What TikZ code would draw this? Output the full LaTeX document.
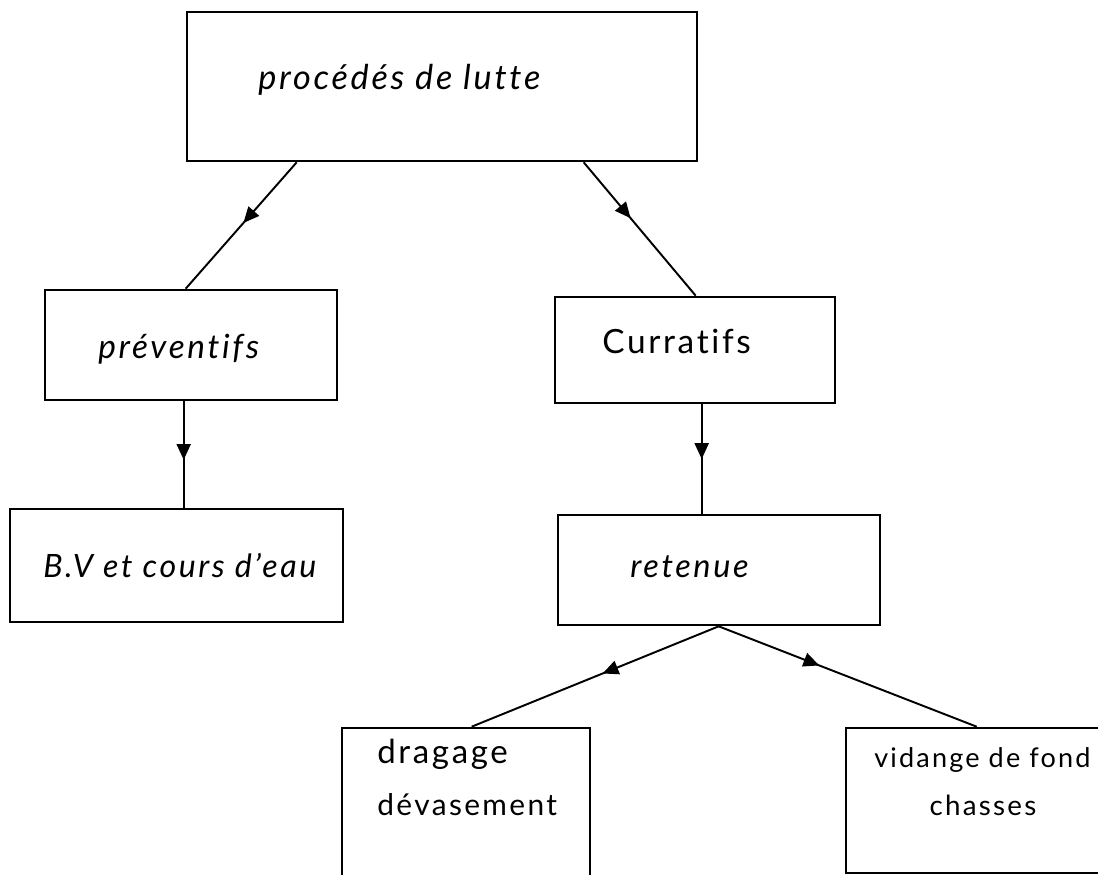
\documentclass[tikz,border=0pt]{standalone}
\usepackage{fontspec}
\setmainfont{Lato}[LetterSpace=8,Ligatures={NoCommon}]
\usetikzlibrary{fit,calc,arrows.meta,decorations.markings}
\newcommand{\fs}[1]{\fontsize{#1}{#1}\selectfont}
\begin{document}
\begin{tikzpicture}[x=0.02cm,y=-0.02cm,
  box/.style={draw=black,line width=1.5pt,inner sep=0pt},
  txt/.style={inner sep=0pt,font=\fs{17}},
  conn/.style={line width=1.1pt,postaction={decorate},
    decoration={markings,mark=at position #1 with {\arrow{Triangle[length=9pt,width=8pt]}}}},
  conn/.default=0.5]
\useasboundingbox[fill=white] (0,0) rectangle (1098,875);
% boxes
\node[box,fit={(187,12) (697,161)}] (top) {};
\node[box,fit={(45,290) (337,400)}] (prev) {};
\node[box,fit={(555,297) (835,403)}] (curr) {};
\node[box,fit={(10,509) (343,622)}] (bv) {};
\node[box,fit={(558,515) (880,625)}] (ret) {};
\node[box,fit={(342,728) (590,880)}] (drag) {};
\node[box,fit={(846,728) (1110,873)}] (vid) {};
% texts
\node[txt,anchor=base west,font=\fs{19.5}] (ttop) at (258,90) {\itshape procédés de lutte};
\node[txt,anchor=base west,font=\fs{19}] (tprev) at (98,358) {\itshape préventifs};
\node[txt,anchor=base west,font=\fs{19}] (tcurr) at (602,353) {Curratifs};
\node[txt,anchor=base west,font=\fs{18.3}] (tbv) at (43,577) {\itshape B.V et cours d'eau};
\node[txt,anchor=base west,font=\fs{18.5}] (tret) at (630,577) {\itshape retenue};
\node[txt,anchor=base west,font=\fs{18.8}] (tdrag1) at (377,763) {dragage};
\node[txt,anchor=base west,font=\fs{17}] (tdrag2) at (377,815) {dévasement};
\node[txt,anchor=base west,font=\fs{15.4}] (tvid1) at (874,767) {vidange de fond};
\node[txt,anchor=base,font=\fs{15.8}] (tvid2) at (983,815) {chasses};
% connectors
\draw[conn=0.48] ($(top.south west)+(111,0)$) -- ($(prev.north west)+(142,0)$);
\draw[conn=0.42] ($(top.south west)+(398,0)$) -- ($(curr.north west)+(142,0)$);
\draw[conn=0.55] ($(prev.south west)+(140,0)$) -- ($(bv.north west)+(175,0)$);
\draw[conn=0.5] ($(curr.south west)+(148,0)$) -- ($(ret.north west)+(145,0)$);
\draw[conn=0.47] ($(ret.south west)+(162,0)$) -- ($(drag.north west)+(131,0)$);
\draw[conn=0.39] ($(ret.south west)+(162,0)$) -- ($(vid.north west)+(132,0)$);
\end{tikzpicture}
\end{document}
